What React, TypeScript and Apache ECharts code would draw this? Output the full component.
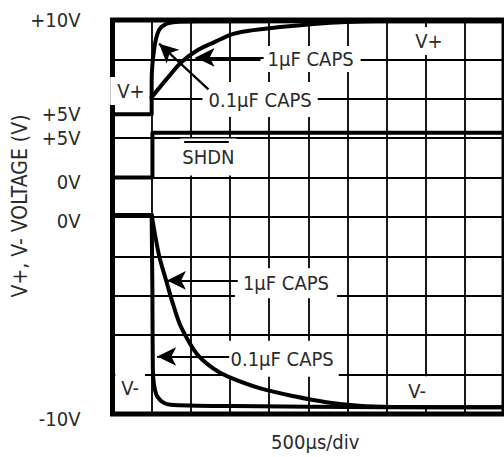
import React, { useEffect, useRef } from "react";
import * as echarts from "echarts";

// ---- data (x and y in scope divisions: 500µs/div horizontally) ----
const vPlusStep = [[0, 7.61], [1, 7.61], [1, 8.04]];
const vPlus01uF = [[1, 8.04], [1.0, 8.44], [1.07, 9.3], [1.19, 9.75], [1.37, 9.9], [1.62, 9.95], [2.2, 9.96], [10, 9.97]];
const vPlus1uF = [[1, 8.04], [1.44, 8.57], [1.77, 8.94], [2.2, 9.25], [2.63, 9.45], [3.03, 9.63], [3.45, 9.72], [4.28, 9.82], [5.14, 9.9], [5.97, 9.95], [6.8, 9.97], [10, 9.97]];
const shdnTrace = [[0, 6.0], [1.02, 6.0], [1.02, 7.14], [10, 7.14]];
const vMinusStep = [[0, 5.05], [1, 5.05]];
const vMinus01uF = [[1, 5.05], [1.02, 3.0], [1.03, 1.2], [1.06, 0.75], [1.14, 0.45], [1.32, 0.28], [1.57, 0.23], [3.08, 0.2], [6.97, 0.17], [10, 0.17]];
const vMinus1uF = [[1, 5.05], [1.19, 4.02], [1.37, 3.39], [1.57, 2.71], [1.75, 2.21], [2.15, 1.53], [2.58, 1.15], [2.95, 0.95], [3.78, 0.65], [4.64, 0.45], [5.46, 0.3], [6.29, 0.21], [7.15, 0.18], [10, 0.17]];

const yTickValues = [10, 7.62, 7.0, 5.88, 4.9, 0];
const yTickLabels = ["+10V", "+5V", "+5V", "0V", "0V", "-10V"];

const noteTexts = ["1µF CAPS", "0.1µF CAPS", "1µF CAPS", "0.1µF CAPS", "V+", "V+", "SHDN", "V-", "V-"];
const notePositions = [[5.06, 9.01], [3.77, 7.98], [4.43, 3.32], [4.32, 1.4], [0.47, 8.2], [8.08, 9.47], [2.45, 6.52], [0.45, 0.66], [7.78, 0.58]];
const arrowFrom = [[3.86, 9.05], [2.45, 8.24], [3.2, 3.39], [2.98, 1.46]];
const arrowTip = [[2.12, 9.05], [1.19, 9.4], [1.39, 3.39], [1.14, 1.46]];
const shdnBar = [[1.83, 6.91], [2.97, 6.91]];

// ---- styles ----
const FONT = "'Liberation Sans Narrow', 'DejaVu Sans Condensed', 'Open Sans', sans-serif";
const TEXT = "#2b2b2b";
const FS = 20;
const notePadding = [[3, 7, 3, 7], [8, 6, 7, 6], [5, 8, 5, 8], [8, 5, 8, 6], [4, 7, 4, 7], [4, 4, 4, 4], [9, 2, 8, 2], [5, 6, 5, 6], [5, 9, 5, 9]];

function traceSeries(name: string, data: number[][], smooth: number | boolean) {
  return {
    name,
    type: "line",
    data,
    smooth,
    showSymbol: false,
    symbol: "none",
    z: 5,
    silent: true,
    lineStyle: { color: "#000", width: 4, cap: "round", join: "round" },
  };
}

export default function App() {
  const ref = useRef<HTMLDivElement>(null);
  useEffect(() => {
    document.body.style.margin = "0";
    const chart = echarts.init(ref.current!, null, { renderer: "svg" });
    const arrowData: any[] = arrowFrom.map((f, i) => [
      { coord: f, symbol: "none" },
      { coord: arrowTip[i], symbol: "arrow", symbolSize: [14, 19] },
    ]);
    arrowData.push([
      { coord: shdnBar[0], symbol: "none" },
      { coord: shdnBar[1], symbol: "none" },
    ]);
    const option: any = {
      animation: false,
      backgroundColor: "#fff",
      textStyle: { fontFamily: FONT },
      grid: {
        left: 112.5,
        top: 20,
        width: 398,
        height: 398,
        show: true,
        borderColor: "#000",
        borderWidth: 5,
        backgroundColor: "transparent",
      },
      xAxis: {
        type: "value",
        min: 0,
        max: 10,
        interval: 1,
        axisLine: { show: false },
        axisTick: { show: false },
        axisLabel: { show: false },
        splitLine: { show: true, lineStyle: { color: "#000", width: 1.8 } },
        name: "500µs/div",
        nameLocation: "middle",
        nameGap: 18,
        nameTextStyle: { color: TEXT, fontSize: FS, fontFamily: FONT, verticalAlign: "top", padding: [0, 0, 0, 14] },
      },
      yAxis: {
        type: "value",
        min: 0,
        max: 10,
        interval: 1,
        axisLine: { show: false },
        axisTick: { show: false },
        axisLabel: {
          show: true,
          customValues: yTickValues,
          showMinLabel: true,
          showMaxLabel: true,
          margin: 32,
          color: TEXT,
          fontSize: FS,
          lineHeight: 17,
          fontFamily: FONT,
          formatter: (val: number) => {
            const i = yTickValues.findIndex((t) => Math.abs(t - val) < 1e-6);
            if (i < 0) return "";
            return val === 0 ? `{low|${yTickLabels[i]}}` : yTickLabels[i];
          },
          rich: {
            low: { color: TEXT, fontSize: FS, lineHeight: 17, fontFamily: FONT, padding: [10, 0, 0, 0] },
          },
        },
        splitLine: { show: true, lineStyle: { color: "#000", width: 1.8 } },
      },
      graphic: [
        {
          type: "text",
          x: 20,
          y: 206,
          rotation: Math.PI / 2,
          style: {
            text: "V+, V- VOLTAGE (V)",
            fill: TEXT,
            font: `${FS + 1}px ${FONT}`,
            align: "center",
            verticalAlign: "middle",
          },
        },
      ],
      series: [
        {
          name: "notes",
          type: "scatter",
          z: 3,
          silent: true,
          symbolSize: 1,
          itemStyle: { color: "rgba(0,0,0,0)" },
          data: noteTexts.map((t, i) => ({
            value: notePositions[i],
            label: {
              show: true,
              position: "inside",
              formatter: t,
              color: TEXT,
              opacity: 1,
              fontSize: FS,
              lineHeight: 20,
              fontFamily: FONT,
              backgroundColor: "#ffffff",
              padding: notePadding[i],
              align: "center",
              verticalAlign: "middle",
            },
          })),
        },
        {
          name: "arrows",
          type: "line",
          data: [],
          z: 6,
          silent: true,
          markLine: {
            silent: true,
            animation: false,
            symbol: ["none", "arrow"],
            label: { show: false },
            lineStyle: { color: "#000", width: 2.2, type: "solid" },
            itemStyle: { color: "#000" },
            emphasis: { disabled: true },
            data: arrowData,
          },
        },
        traceSeries("V+ step", vPlusStep, false),
        traceSeries("V+ 0.1µF", vPlus01uF, 0.25),
        traceSeries("V+ 1µF", vPlus1uF, 0.3),
        traceSeries("SHDN", shdnTrace, false),
        traceSeries("V- step", vMinusStep, false),
        traceSeries("V- 0.1µF", vMinus01uF, 0.25),
        traceSeries("V- 1µF", vMinus1uF, 0.3),
      ],
    };
    chart.setOption(option);
    return () => chart.dispose();
  }, []);
  return <div ref={ref} style={{ width: 504, height: 457 }} />;
}
